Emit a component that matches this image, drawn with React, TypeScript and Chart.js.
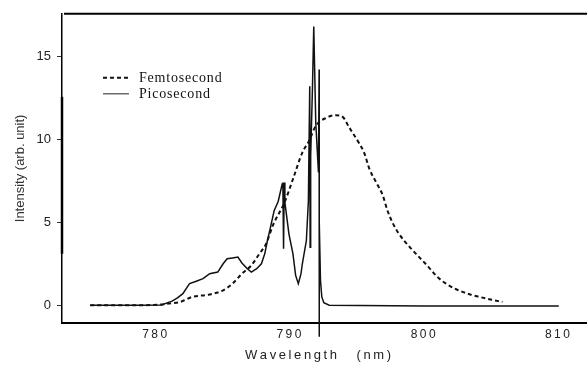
import React, { useEffect, useRef } from "react";
import { Chart, registerables } from "chart.js";

Chart.register(...registerables);

const femtoX = [775.2, 777, 779, 780.5, 781.3, 781.9, 782.8, 784.1, 785.1, 785.8, 786.5, 787.2, 787.8, 788.3, 788.8, 789.7, 790.3, 791.0, 791.5, 792.0, 792.8, 793.5, 794.0, 794.5, 795.2, 795.6, 796.0, 796.5, 797.0, 797.3, 797.7, 798.2, 799.0, 799.7, 800.4, 801.0, 801.7, 802.5, 803.5, 804.2, 805.0, 805.9];
const femtoY = [0, 0, 0, 0.05, 0.12, 0.2, 0.5, 0.65, 0.9, 1.3, 1.9, 2.4, 3.1, 3.7, 4.8, 6.25, 7.6, 9.2, 9.9, 10.8, 11.3, 11.45, 11.35, 10.7, 9.8, 9.2, 8.2, 7.4, 6.6, 5.8, 5.0, 4.3, 3.5, 2.9, 2.3, 1.75, 1.3, 0.95, 0.65, 0.5, 0.35, 0.2];

const picoX = [775.2, 777, 779, 780.5, 781.3, 781.7, 782.1, 782.6, 783.1, 783.6, 784.1, 784.7, 785.1, 785.4, 785.8, 786.2, 786.5, 786.9, 787.2, 787.6, 787.95, 788.2, 788.4, 788.6, 788.9, 789.2, 789.5, 789.55, 789.6, 789.65, 789.7, 790.0, 790.3, 790.5, 790.7, 790.9, 791.0, 791.3, 791.45, 791.55, 791.58, 791.62, 791.75, 791.85, 792.0, 792.2, 792.25, 792.25, 792.27, 792.35, 792.45, 792.6, 793.0, 800, 810.1];
const picoY = [0, 0, 0, 0.02, 0.25, 0.45, 0.7, 1.3, 1.45, 1.6, 1.9, 2.0, 2.5, 2.8, 2.85, 2.9, 2.55, 2.2, 2.0, 2.2, 2.5, 3.1, 3.9, 4.6, 5.7, 6.25, 7.3, 7.4, 3.4, 7.4, 6.2, 4.3, 3.1, 1.8, 1.3, 1.9, 2.5, 3.9, 6.3, 13.2, 3.5, 9.0, 13.0, 16.8, 11.0, 8.0, 14.2, -1.9, 5.0, 1.5, 0.5, 0.15, 0.0, -0.05, -0.05];

const xTicks = [780, 790, 800, 810];
const yTicks = [0, 5, 10, 15];

const legendLabels = ["Femtosecond", "Picosecond"];
const xTitleWord = "Wavelength";
const xTitleUnit = "(nm)";
const yTitle = "Intensity (arb. unit)";

const spaced = (s: string) => s.split("").join("\u2009");

const framePlugin = {
  id: "frame",
  afterDraw(chart: any) {
    const { ctx, chartArea } = chart;
    ctx.save();
    ctx.strokeStyle = "#000";
    ctx.lineWidth = 2;
    ctx.beginPath();
    ctx.moveTo(chartArea.left + 2, chartArea.top);
    ctx.lineTo(chartArea.right, chartArea.top);
    ctx.stroke();
    // thick part of the left axis
    ctx.lineWidth = 2.5;
    ctx.beginPath();
    ctx.moveTo(chartArea.left, chartArea.top + 83);
    ctx.lineTo(chartArea.left, chartArea.top + 240);
    ctx.stroke();
    // legend
    const ds = chart.data.datasets;
    const items = [
      { y: chartArea.top + 64, dash: [4, 3], width: 2, color: ds[0].borderColor, label: ds[0].label },
      { y: chartArea.top + 80, dash: [], width: 1.2, color: "#444", label: ds[1].label },
    ];
    ctx.font = "14px 'Liberation Serif', 'Times New Roman', serif";
    try {
      (ctx as any).letterSpacing = "0.8px";
    } catch (e) {}
    ctx.textBaseline = "middle";
    ctx.fillStyle = "#111";
    for (const it of items) {
      ctx.setLineDash(it.dash);
      ctx.lineWidth = it.width;
      ctx.strokeStyle = it.color;
      ctx.beginPath();
      ctx.moveTo(103, it.y);
      ctx.lineTo(129, it.y);
      ctx.stroke();
      ctx.setLineDash([]);
      ctx.fillText(it.label, 139, it.y + 1);
    }
    try {
      (ctx as any).letterSpacing = "0px";
    } catch (e) {}
    ctx.restore();
  },
};

export default function App() {
  const ref = useRef<HTMLCanvasElement | null>(null);
  useEffect(() => {
    if (!ref.current) return;
    const chart = new Chart(ref.current, {
      type: "line",
      data: {
        datasets: [
          {
            label: legendLabels[0],
            data: femtoX.map((x, i) => ({ x, y: femtoY[i] })),
            borderColor: "#111",
            borderWidth: 2,
            borderDash: [4, 3],
            pointRadius: 0,
            tension: 0.3,
            cubicInterpolationMode: "monotone",
            fill: false,
          },
          {
            label: legendLabels[1],
            data: picoX.map((x, i) => ({ x, y: picoY[i] })),
            borderColor: "#111",
            borderWidth: 1.5,
            pointRadius: 0,
            tension: 0,
            fill: false,
            clip: { left: 0, top: 0, right: 0, bottom: 16 },
          },
        ],
      } as any,
      options: {
        animation: false,
        responsive: false,
        maintainAspectRatio: false,
        layout: { padding: { top: 10, left: 0, right: 0, bottom: 0 } },
        plugins: { legend: { display: false }, tooltip: { enabled: false } },
        scales: {
          x: {
            type: "linear",
            min: 773.1,
            max: 812.2,
            afterFit: (s: any) => {
              s.height = 42;
            },
            afterBuildTicks: (s: any) => {
              s.ticks = xTicks.map((v) => ({ value: v }));
            },
            ticks: {
              callback: (v: any) => spaced(String(v)),
              font: { family: "'Liberation Sans', Arial, sans-serif", size: 12 },
              color: "#222",
              padding: 4,
              maxRotation: 0,
            },
            grid: { display: false, drawTicks: false },
            border: { display: true, color: "#000", width: 2 },
            title: {
              display: true,
              text: spaced(xTitleWord) + "\u2003\u2002" + spaced(xTitleUnit) + "\u2003",
              font: { family: "'Liberation Sans', Arial, sans-serif", size: 13 },
              color: "#222",
              padding: { top: 0, bottom: 2 },
            },
          },
          y: {
            type: "linear",
            min: -1.07,
            max: 17.56,
            afterFit: (s: any) => {
              s.width = 62;
            },
            afterBuildTicks: (s: any) => {
              s.ticks = yTicks.map((v) => ({ value: v }));
            },
            ticks: {
              font: { family: "'Liberation Sans', Arial, sans-serif", size: 13 },
              color: "#222",
              padding: 6,
            },
            grid: { display: true, drawOnChartArea: false, drawTicks: true, tickLength: 5, color: "#333" },
            border: { display: true, color: "#000", width: 1.5 },
            title: {
              display: true,
              text: yTitle,
              font: { family: "'Liberation Sans', Arial, sans-serif", size: 13 },
              color: "#333",
              padding: { top: 13, bottom: 0 },
            },
          },
        },
      } as any,
      plugins: [framePlugin],
    });
    return () => chart.destroy();
  }, []);
  return (
    <div style={{ position: "absolute", left: 0, top: 0, width: 587, height: 365, background: "#fff" }}>
      <canvas ref={ref} width={587} height={365} />
    </div>
  );
}
